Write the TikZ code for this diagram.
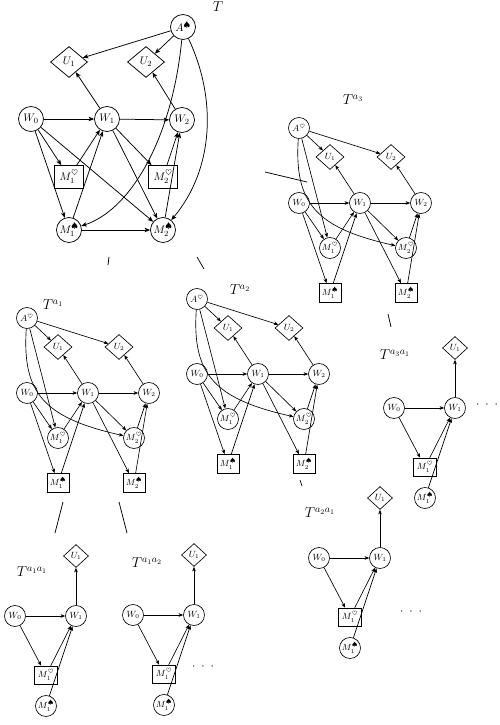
\documentclass[tikz,border=0pt]{standalone}
\usetikzlibrary{shapes.geometric,arrows.meta}

\tikzset{
  lw/.style={line width=0.75pt},
  slw/.style={line width=0.65pt},
  arr/.style={lw,-{Stealth[length=5.5pt,width=4.4pt,inset=1.4pt]}},
  sarr/.style={slw,-{Stealth[length=4.5pt,width=3.6pt,inset=1.2pt]}},
  bigfont/.style={font=\fontsize{11}{13}\selectfont},
  smallfont/.style={font=\fontsize{9}{11}\selectfont},
  bigcirc/.style={circle,draw,lw,minimum size=25pt,inner sep=0pt,bigfont},
  bigbox/.style={rectangle,draw,lw,minimum width=29pt,minimum height=23pt,inner sep=0pt,bigfont},
  bigdiam/.style={diamond,draw,lw,minimum width=37pt,minimum height=31pt,inner sep=0pt,bigfont},
  smallcirc/.style={circle,draw,slw,minimum size=21pt,inner sep=0pt,smallfont},
  smallbox/.style={rectangle,draw,slw,minimum width=22pt,minimum height=19pt,inner sep=0pt,smallfont},
  smalldiam/.style={diamond,draw,slw,minimum width=28pt,minimum height=25pt,inner sep=0pt,smallfont},
  leafbox/.style={smallbox,minimum width=23pt,minimum height=18pt},
  leafdiam/.style={smalldiam,minimum width=25pt,minimum height=23pt},
  treelabel/.style={font=\fontsize{14}{16}\selectfont,inner sep=0pt},
  treeline/.style={line width=0.75pt},
  dotsnode/.style={font=\fontsize{12}{14}\selectfont,inner sep=0pt},
}

% second-level graph: hearts player to move, spade memories boxed
\newcommand{\midgraph}[3]{%
  \begin{scope}[shift={(#2,#3)}]
    \node[smallcirc] (#1A)   at (0,-75)  {$A^{\heartsuit}$};
    \node[smalldiam] (#1U1)  at (31,-46) {$U_1$};
    \node[smalldiam] (#1U2)  at (92,-46) {$U_2$};
    \node[smallcirc] (#1W0)  at (0,0)    {$W_0$};
    \node[smallcirc] (#1W1)  at (61,0)   {$W_1$};
    \node[smallcirc] (#1W2)  at (122,0)  {$W_2$};
    \node[smallcirc] (#1M1h) at (31,45)  {$M_1^{\heartsuit}$};
    \node[smallcirc] (#1M2h) at (107,45) {$M_2^{\heartsuit}$};
    \node[smallbox]  (#1M1s) at (31,90)  {$M_1^{\spadesuit}$};
    \node[smallbox]  (#1M2s) at (107,90) {$M_2^{\spadesuit}$};
    \draw[sarr] (#1A) -- (#1U1);
    \draw[sarr] (#1A) -- (#1U2);
    \draw[sarr] (#1A) -- (#1M1h);
    \draw[sarr] (#1A) .. controls +(-5,75) and +(-90,-20) .. (#1M2h);
    \draw[sarr] (#1W0) -- (#1W1);
    \draw[sarr] (#1W1) -- (#1W2);
    \draw[sarr] (#1W1) -- (#1U1);
    \draw[sarr] (#1W2) -- (#1U2);
    \draw[sarr] (#1W0) -- (#1M1h);
    \draw[sarr] (#1W0) -- (#1M1s);
    \draw[sarr] (#1M1h) -- (#1W1);
    \draw[sarr] (#1M1s) -- (#1W1);
    \draw[sarr] (#1W1) -- (#1M2h);
    \draw[sarr] (#1W1) -- (#1M2s);
    \draw[sarr] (#1M2h) -- (#1W2);
    \draw[sarr] (#1M2s) -- (#1W2);
  \end{scope}}

% third-level graph: first round only
\newcommand{\leafgraph}[3]{%
  \begin{scope}[shift={(#2,#3)}]
    \node[leafdiam]  (#1U1)  at (61,-60) {$U_1$};
    \node[smallcirc] (#1W0)  at (0,0)    {$W_0$};
    \node[smallcirc] (#1W1)  at (61,0)   {$W_1$};
    \node[leafbox]   (#1M1h) at (31,59)  {$M_1^{\heartsuit}$};
    \node[smallcirc] (#1M1s) at (31,90)  {$M_1^{\spadesuit}$};
    \draw[sarr] (#1W0) -- (#1W1);
    \draw[sarr] (#1W1) -- (#1U1);
    \draw[sarr] (#1W0) -- (#1M1h);
    \draw[sarr] (#1M1h) -- (#1W1);
    \draw[sarr] (#1M1s) -- (#1W1);
  \end{scope}}

\begin{document}
\begin{tikzpicture}[x=1pt,y=-1pt]
\useasboundingbox (0,0) rectangle (499,725);

% ---------- root graph T ----------
\node[treelabel] (T) at (218,7) {$T$};
\node[bigcirc] (A)   at (183,27)  {$A^{\spadesuit}$};
\node[bigdiam] (U1)  at (69,62)   {$U_1$};
\node[bigdiam] (U2)  at (146,62)  {$U_2$};
\node[bigcirc] (W0)  at (31,119)  {$W_0$};
\node[bigcirc] (W1)  at (107,119) {$W_1$};
\node[bigcirc] (W2)  at (182,120) {$W_2$};
\node[bigbox]  (M1h) at (69,177)  {$M_1^{\heartsuit}$};
\node[bigbox]  (M2h) at (163,177) {$M_2^{\heartsuit}$};
\node[bigcirc] (M1s) at (69,230)  {$M_1^{\spadesuit}$};
\node[bigcirc] (M2s) at (163,230) {$M_2^{\spadesuit}$};

\draw[arr] (A) -- (U1);
\draw[arr] (A) -- (U2);
\draw[arr] (A) .. controls +(-11,113) and +(61,-20) .. (M1s);
\draw[arr] (A) .. controls +(34,72) and +(51,-61) .. (M2s);
\draw[arr] (W1) -- (U1);
\draw[arr] (W2) -- (U2);
\draw[arr] (W0) -- (W1);
\draw[arr] (W1) -- (W2);
\draw[arr] (W0) -- (M1h);
\draw[arr] (W0) -- (M1s);
\draw[arr] (W0) -- (M2s);
\draw[arr] (M1h) -- (W1);
\draw[arr] (M1s) -- (W1);
\draw[arr] (W1) -- (M2h);
\draw[arr] (W1) -- (M2s);
\draw[arr] (M2h) -- (W2);
\draw[arr] (M2s) -- (W2);
\draw[arr] (M1s) -- (M2s);

% ---------- second level ----------
\node[treelabel] (Ta1) at (53,305) {$T^{a_1}$};
\midgraph{a1-}{27}{393}
\node[treelabel] (Ta2) at (240,290) {$T^{a_2}$};
\midgraph{a2-}{197}{374}
\node[treelabel] (Ta3) at (353,100) {$T^{a_3}$};
\midgraph{a3-}{299}{203}

% ---------- third level ----------
\node[treelabel] (Ta3a1) at (395,355) {$T^{a_3a_1}$};
\leafgraph{a3a1-}{394}{408}
\node[dotsnode] (dots31) at (487,405) {${\cdot}\hspace{6pt}{\cdot}\hspace{6pt}{\cdot}$};

\node[treelabel] (Ta2a1) at (320,513) {$T^{a_2a_1}$};
\leafgraph{a2a1-}{319}{558}
\node[dotsnode] (dots21) at (411,612) {${\cdot}\hspace{6pt}{\cdot}\hspace{6pt}{\cdot}$};

\node[treelabel] (Ta1a1) at (32,572) {$T^{a_1a_1}$};
\leafgraph{a1a1-}{15}{616}

\node[treelabel] (Ta1a2) at (147,563) {$T^{a_1a_2}$};
\leafgraph{a1a2-}{133}{615}
\node[dotsnode] (dots12) at (203,667) {${\cdot}\hspace{6pt}{\cdot}\hspace{6pt}{\cdot}$};

% ---------- tree edges between the graphs ----------
\coordinate (tA1s) at (109,257); \coordinate (tA1e) at (108,265);
\coordinate (tA2s) at (197,257); \coordinate (tA2e) at (204,269);
\coordinate (tA3s) at (265,172); \coordinate (tA3e) at (307,182);
\coordinate (t31s) at (388,314); \coordinate (t31e) at (391,327);
\coordinate (t21s) at (300,480); \coordinate (t21e) at (302,486);
\coordinate (t11s) at (63,502);  \coordinate (t11e) at (55,533);
\coordinate (t12s) at (119,502); \coordinate (t12e) at (127,533);
\draw[treeline] (tA1s) -- (tA1e);
\draw[treeline] (tA2s) -- (tA2e);
\draw[treeline] (tA3s) -- (tA3e);
\draw[treeline] (t31s) -- (t31e);
\draw[treeline] (t21s) -- (t21e);
\draw[treeline] (t11s) -- (t11e);
\draw[treeline] (t12s) -- (t12e);
\end{tikzpicture}
\end{document}
